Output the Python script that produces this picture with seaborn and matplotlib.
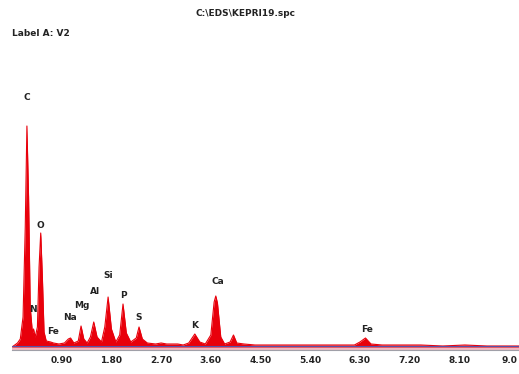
import seaborn as sns
import matplotlib.pyplot as plt
import pandas as pd

# spectrum (energy in keV, counts in arbitrary units)
energy = [0.00, 0.05, 0.10, 0.15, 0.20, 0.24, 0.27, 0.30, 0.33, 0.37, 0.39, 0.42,
          0.46, 0.49, 0.52, 0.55, 0.58, 0.62, 0.70, 0.75, 0.85, 0.95, 1.02, 1.06,
          1.12, 1.20, 1.25, 1.30, 1.36, 1.42, 1.48, 1.54, 1.62, 1.68, 1.74, 1.80,
          1.88, 1.95, 2.01, 2.07, 2.15, 2.25, 2.30, 2.36, 2.45, 2.60, 2.70, 2.80,
          2.90, 3.00, 3.10, 3.20, 3.31, 3.40, 3.50, 3.60, 3.66, 3.69, 3.72, 3.78,
          3.85, 3.95, 4.01, 4.07, 4.20, 4.40, 4.70, 5.00, 5.30, 5.60, 5.90, 6.20,
          6.30, 6.40, 6.50, 6.70, 7.00, 7.40, 7.80, 8.20, 8.60, 9.00, 9.20]
counts = [0, 2, 4, 8, 30, 120, 221, 150, 40, 14, 18, 10,
          20, 80, 114, 70, 15, 6, 5, 4, 3, 4, 8, 9,
          4, 6, 21, 8, 4, 10, 25, 10, 5, 20, 50, 18,
          5, 12, 43, 14, 5, 9, 20, 8, 4, 3, 4, 3,
          3, 3, 2, 4, 13, 5, 3, 12, 45, 51, 44, 10,
          3, 5, 12, 4, 3, 2, 2, 2, 2, 2, 2, 2,
          5, 9, 3, 2, 2, 2, 1, 2, 1, 1, 1]

# peak labels
elements = ["C", "O", "N", "Fe", "Na", "Mg", "Al", "Si", "P", "S", "K", "Ca", "Fe"]
label_energy = [0.27, 0.51, 0.38, 0.74, 1.05, 1.27, 1.50, 1.74, 2.01, 2.30, 3.31, 3.72, 6.42]
label_height = [250, 121, 38, 15, 29, 42, 56, 71, 51, 29, 21, 65, 18]

tick_pos = [0.90, 1.80, 2.70, 3.60, 4.50, 5.40, 6.30, 7.20, 8.10, 9.00]
tick_labels = ["0.90", "1.80", "2.70", "3.60", "4.50", "5.40", "6.30", "7.20", "8.10", "9.0"]

df = pd.DataFrame({"energy": energy, "counts": counts})

sns.set_style("white")
fig = plt.figure(figsize=(5.19, 3.74), dpi=100)
ax = fig.add_axes([12 / 519, 1 - 350 / 374, 1 - 12 / 519, 261 / 374])

ax.axhspan(-3, 0, color="#f2b8c0", linewidth=0, zorder=0)
ax.fill_between(df["energy"], df["counts"], color="#e8000b", linewidth=0)
sns.lineplot(data=df, x="energy", y="counts", ax=ax, color="#e8000b", linewidth=0.8)
ax.axhline(1.0, color="#5a50a8", linewidth=0.8, zorder=3)

for name, e, h in zip(elements, label_energy, label_height):
    ax.text(e, h, name, ha="center", va="center", fontsize=6.5,
            fontweight="bold", color="#222222", clip_on=False)

ax.set_xlim(0, 9.18)
ax.set_ylim(-3, 258)
ax.set_xticks(tick_pos)
ax.set_xticklabels(tick_labels, fontsize=6.5, fontweight="bold", color="#222222")
ax.set_yticks([])
ax.set_xlabel("")
ax.set_ylabel("")
ax.tick_params(axis="x", direction="out", length=2, width=0.6, color="#666666", pad=2)
for side in ["top", "right", "left"]:
    ax.spines[side].set_visible(False)
ax.spines["bottom"].set_color("#a0a0a8")
ax.spines["bottom"].set_linewidth(0.8)

fig.text(245 / 519, 1 - 13 / 374, "C:\\EDS\\KEPRI19.spc", ha="center", va="center",
         fontsize=6.5, fontweight="bold", color="#222222")
fig.text(12 / 519, 1 - 34 / 374, "Label A: V2", ha="left", va="center",
         fontsize=6.5, fontweight="bold", color="#222222")

plt.savefig("out.png", dpi=100)
